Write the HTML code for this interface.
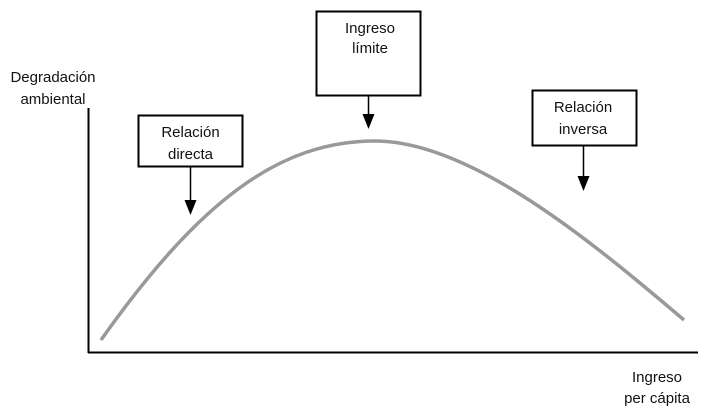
<!DOCTYPE html>
<html><head><meta charset="utf-8"><style>
body{margin:0;background:#fff;}
svg text{font-family:"Liberation Sans Narrow","Liberation Sans",sans-serif;font-size:15px;fill:#111;}
</style></head><body>
<svg width="710" height="409" viewBox="0 0 710 409" xmlns="http://www.w3.org/2000/svg">
<line x1="88.5" y1="108" x2="88.5" y2="353" stroke="#000" stroke-width="2"/>
<line x1="88" y1="352.5" x2="698" y2="352.5" stroke="#000" stroke-width="2"/>
<path d="M101,340 C200,200 280,141 375,141 C470,141 590,240 684,320" fill="none" stroke="#999" stroke-width="3.5"/>
<rect x="138.5" y="115.5" width="104" height="51" fill="#fff" stroke="#000" stroke-width="2"/>
<text x="190.5" y="137" text-anchor="middle">Relación</text>
<text x="190.5" y="159" text-anchor="middle">directa</text>
<rect x="316.5" y="11.5" width="104" height="84" fill="#fff" stroke="#000" stroke-width="2"/>
<text x="370" y="33" text-anchor="middle">Ingreso</text>
<text x="370" y="53" text-anchor="middle">límite</text>
<rect x="532.5" y="90.5" width="104" height="55" fill="#fff" stroke="#000" stroke-width="2"/>
<text x="583" y="112" text-anchor="middle">Relación</text>
<text x="583" y="134" text-anchor="middle">inversa</text>
<line x1="190.5" y1="166" x2="190.5" y2="202" stroke="#000" stroke-width="1.5"/>
<polygon points="184.5,200 196.5,200 190.5,215" fill="#000"/>
<line x1="368.5" y1="95" x2="368.5" y2="116" stroke="#000" stroke-width="1.5"/>
<polygon points="362.5,114 374.5,114 368.5,129" fill="#000"/>
<line x1="583.5" y1="145" x2="583.5" y2="178" stroke="#000" stroke-width="1.5"/>
<polygon points="577.5,176 589.5,176 583.5,191" fill="#000"/>
<text x="53" y="82" text-anchor="middle">Degradación</text>
<text x="53" y="104" text-anchor="middle">ambiental</text>
<text x="657" y="382" text-anchor="middle">Ingreso</text>
<text x="657" y="403" text-anchor="middle">per cápita</text>
</svg>
</body></html>
